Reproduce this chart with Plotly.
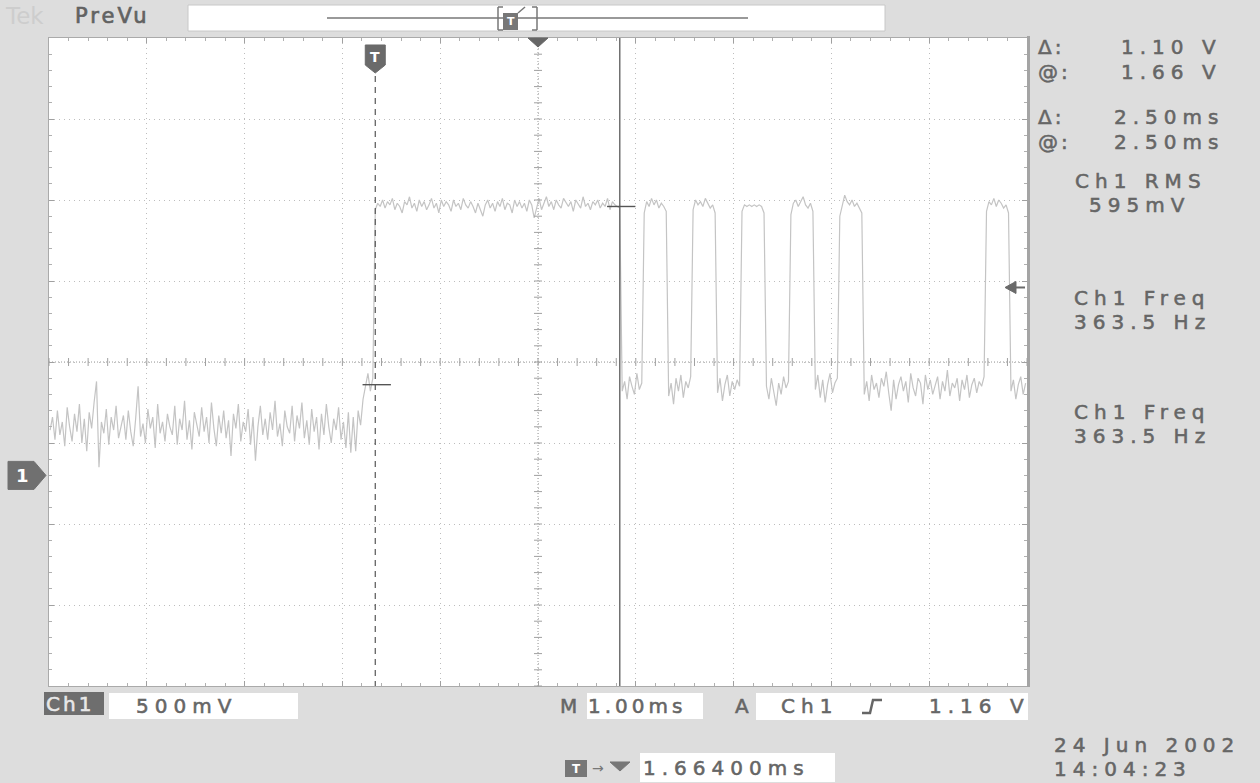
import plotly.graph_objects as go

# ---------------- readings from the screen ----------------
SAMPLE_MS = 0.025            # spacing of the displayed record points
PRE_START_MS = -3.325
pre_trigger_v = [
    0.28, 0.36, 0.22, 0.40, 0.25, 0.33, 0.18, 0.42, 0.30, 0.21,
    0.38, 0.27, 0.44, 0.20, 0.35, 0.15, 0.39, 0.29, 0.45, 0.58,
    0.05, 0.33, 0.26, 0.41, 0.19, 0.36, 0.28, 0.43, 0.23, 0.31,
    0.37, 0.22, 0.40, 0.27, 0.18, 0.35, 0.55, 0.24, 0.32, 0.20,
    0.41, 0.29, 0.36, 0.17, 0.44, 0.26, 0.33, 0.21, 0.38, 0.30,
    0.25, 0.43, 0.19, 0.35, 0.28, 0.46, 0.22, 0.34, 0.16, 0.39,
    0.31, 0.24, 0.42, 0.27, 0.36, 0.20, 0.45, 0.29, 0.18, 0.37,
    0.26, 0.40, 0.23, 0.34, 0.12, 0.38, 0.29, 0.44, 0.21, 0.33,
    0.27, 0.41, 0.19, 0.36, 0.09, 0.30, 0.43, 0.25, 0.35, 0.22,
    0.39, 0.28, 0.46, 0.24, 0.32, 0.18, 0.40, 0.30, 0.26, 0.43,
    0.21, 0.37, 0.29, 0.45, 0.23, 0.34, 0.19, 0.41, 0.27, 0.36,
    0.16, 0.38, 0.25, 0.44, 0.30, 0.20, 0.35, 0.28, 0.42, 0.22,
    0.33, 0.17, 0.39, 0.14, 0.36, 0.15, 0.40, 0.31, 0.47, 0.55,
    0.63, 0.52, 0.60,
]
HIGH_START_MS = 0.0
high_v = [
    1.64, 1.68, 1.66, 1.70, 1.65, 1.69, 1.67, 1.71, 1.64, 1.68,
    1.66, 1.62, 1.69, 1.67, 1.72, 1.65, 1.68, 1.63, 1.70, 1.66,
    1.69, 1.64, 1.67, 1.71, 1.65, 1.68, 1.62, 1.70, 1.66, 1.69,
    1.67, 1.63, 1.70, 1.66, 1.68, 1.64, 1.71, 1.67, 1.65, 1.69,
    1.66, 1.62, 1.68, 1.64, 1.60, 1.67, 1.70, 1.65, 1.68, 1.63,
    1.69, 1.66, 1.71, 1.64, 1.68, 1.67, 1.62, 1.70, 1.66, 1.69,
    1.65, 1.68, 1.63, 1.70, 1.67, 1.59, 1.66, 1.71, 1.64, 1.68,
    1.72, 1.66, 1.69, 1.64, 1.70, 1.67, 1.65, 1.71, 1.68, 1.66,
    1.69, 1.63, 1.70, 1.67, 1.65, 1.72, 1.66, 1.68, 1.64, 1.69,
    1.67, 1.70, 1.65, 1.68, 1.66, 1.71, 1.64, 1.69, 1.67, 1.66,
    1.65,
]
POST_START_MS = 2.525
post_v = [
    0.52, 0.58, 0.47, 0.61, 0.55, 0.50, 0.63, 0.53, 0.57,
    1.62, 1.69, 1.66, 1.71, 1.67, 1.70, 1.65, 1.68, 1.66, 1.63,
    0.49, 0.57, 0.44, 0.60, 0.52, 0.62, 0.48, 0.58, 0.54, 0.61,
    1.64, 1.70, 1.67, 1.69, 1.66, 1.71, 1.68, 1.65, 1.67, 1.62,
    0.51, 0.60, 0.46, 0.56, 0.62, 0.49, 0.58, 0.53, 0.59, 0.55,
    1.63, 1.67, 1.66, 1.67, 1.66, 1.67, 1.66, 1.67, 1.66, 1.62,
    0.55, 0.47, 0.60, 0.52, 0.43, 0.57, 0.50, 0.61, 0.54, 0.58,
    1.61, 1.68, 1.70, 1.66, 1.69, 1.72, 1.67, 1.65, 1.68, 1.63,
    0.53, 0.62, 0.48, 0.59, 0.45, 0.56, 0.63, 0.51, 0.57, 0.60,
    1.60, 1.66, 1.73, 1.69, 1.67, 1.70, 1.66, 1.68, 1.65, 1.62,
    0.50, 0.58, 0.46, 0.62, 0.53, 0.57, 0.48, 0.60, 0.55, 0.64,
    0.51, 0.40, 0.59, 0.47, 0.56, 0.61, 0.52, 0.58, 0.45, 0.63,
    0.54, 0.49, 0.60, 0.57, 0.44, 0.62, 0.53, 0.59, 0.50, 0.56,
    0.61, 0.47, 0.58, 0.52, 0.65, 0.49, 0.57, 0.54, 0.60, 0.46,
    0.59, 0.53, 0.62, 0.48, 0.56, 0.60, 0.51, 0.58, 0.55, 0.61,
    1.63, 1.69, 1.67, 1.71, 1.66, 1.70, 1.68, 1.65, 1.67, 1.62,
    0.52, 0.59, 0.47, 0.56, 0.61, 0.50, 0.57,
]

VOLTS_PER_DIV = 0.5
MS_PER_DIV = 1.0
CENTER_V = 0.70          # level at screen centre (ground marker 1.4 div below)
CENTER_MS = 1.664        # horizontal trigger position
TRIG_LEVEL_V = 1.16
CURSOR_T_MS = [0.0, 2.5]
CURSOR_V = [0.56, 1.66]
RMS_TEXT = "595mV"
FREQ_TEXT = "363.5 Hz"
DATE_TEXT = "24 Jun 2002"
TIME_TEXT = "14:04:23"

# ---------------- geometry / style ----------------
W, H = 1260, 783
L, R, T, B = 49, 1027, 38, 686
BG = "#dddddd"
TXT = "#666666"
DARK = "#6e6e6e"
FONT = "DejaVu Sans"
SP = 6

XMIN, XMAX = CENTER_MS - 5 * MS_PER_DIV, CENTER_MS + 5 * MS_PER_DIV
YMIN, YMAX = CENTER_V - 4 * VOLTS_PER_DIV, CENTER_V + 4 * VOLTS_PER_DIV


def pxx(p):
    return (p - L) / (R - L)


def pxy(p):
    return (B - p) / (B - T)


def t2px(t):
    return L + (t - XMIN) / (XMAX - XMIN) * (R - L)


def v2py(v):
    return B - (v - YMIN) / (YMAX - YMIN) * (B - T)


def seg(start, vals):
    return [round(start + i * SAMPLE_MS, 4) for i in range(len(vals))], list(vals)


xs, ys = [], []
for st, vv in ((PRE_START_MS, pre_trigger_v), (HIGH_START_MS, high_v), (POST_START_MS, post_v)):
    a, b = seg(st, vv)
    xs += a
    ys += b

fig = go.Figure()
fig.add_trace(go.Scatter(x=xs, y=ys, mode="lines",
                         line=dict(color="#c4c4c4", width=1.2), hoverinfo="skip"))

shapes = []
ann = []


def rect(x0, y0, x1, y1, fill, line=None, lw=0):
    shapes.append(dict(type="rect", xref="paper", yref="paper",
                       x0=pxx(x0), x1=pxx(x1), y0=pxy(y0), y1=pxy(y1),
                       fillcolor=fill, line=dict(color=line or fill, width=lw)))


def seg_line(x0, y0, x1, y1, color, width=1, dash=None):
    d = dict(color=color, width=width)
    if dash:
        d["dash"] = dash
    shapes.append(dict(type="line", xref="paper", yref="paper",
                       x0=pxx(x0), x1=pxx(x1), y0=pxy(y0), y1=pxy(y1), line=d))


def path(pts, fill, line=None, close=True, lw=1):
    s = "M " + " L ".join(f"{pxx(a):.5f},{pxy(b):.5f}" for a, b in pts)
    if close:
        s += " Z"
    shapes.append(dict(type="path", xref="paper", yref="paper", path=s,
                       fillcolor=fill if close else "rgba(0,0,0,0)",
                       line=dict(color=line or fill, width=lw)))


def label(text, x, y, size=20, color=TXT, anchor="left", spacing=SP, bold=False, stroke=0.55):
    if spacing or stroke:
        st = f"letter-spacing:{spacing}px;" if spacing else ""
        if stroke:
            st += f"stroke:{color};stroke-width:{stroke}px;"
        t = f'<span style="{st}">{text}</span>'
    else:
        t = text
    if bold:
        t = f"<b>{t}</b>"
    ann.append(dict(text=t, x=pxx(x), y=pxy(y), xref="paper", yref="paper",
                    xanchor=anchor, yanchor="middle", showarrow=False,
                    font=dict(family=FONT, size=size, color=color)))


# centre crosshair (dense dotted with small ticks)
shapes.append(dict(type="line", xref="x", yref="paper", x0=CENTER_MS, x1=CENTER_MS, y0=0, y1=1,
                   line=dict(color="#9a9a9a", width=1, dash="1px,2px"), layer="below"))
shapes.append(dict(type="line", xref="paper", yref="y", x0=0, x1=1, y0=CENTER_V, y1=CENTER_V,
                   line=dict(color="#9a9a9a", width=1, dash="1px,2px"), layer="below"))
cx, cy = t2px(CENTER_MS), v2py(CENTER_V)
for k in range(-25, 26):
    x = t2px(CENTER_MS + k * MS_PER_DIV / 5)
    seg_line(x, cy - 4, x, cy + 4, "#a0a0a0", 1)
for k in range(-20, 21):
    y = v2py(CENTER_V + k * VOLTS_PER_DIV / 5)
    seg_line(cx - 4, y, cx + 4, y, "#a0a0a0", 1)

# right border strip
rect(R, T - 2, R + 3, B + 1, "#a4a4a4")

# trigger-position marker at top centre
path([(cx - 10, T), (cx + 10, T), (cx, T + 9)], "#666666")

# trigger (T) cursor: dashed line + shield marker
tx = t2px(CURSOR_T_MS[0])
seg_line(tx, 76, tx, B, "#555555", 1.2, dash="6px,5px")
path([(tx - 10, 45), (tx + 10, 45), (tx + 10, 65), (tx, 73), (tx - 10, 65)], "#6a6a6a")
label("T", tx, 57, size=14, color="#ffffff", anchor="center", spacing=0, bold=True, stroke=0)

# second cursor: solid line
c2x = t2px(CURSOR_T_MS[1])
seg_line(c2x, T, c2x, B, "#707070", 1.5)

# cursor cross marks
for t, v in zip(CURSOR_T_MS, CURSOR_V):
    shapes.append(dict(type="line", xref="x", yref="y", x0=t - 0.13, x1=t + 0.16, y0=v, y1=v,
                       line=dict(color="#555555", width=1.4)))

# trigger level arrow at right
ty = v2py(TRIG_LEVEL_V)
path([(R - 22, ty), (R - 11, ty - 6), (R - 11, ty + 6)], "#6a6a6a")
seg_line(R - 12, ty, R - 2, ty, "#6a6a6a", 2)

# channel 1 ground marker
gy = v2py(0.0)
path([(8, gy - 14), (34, gy - 14), (46, gy), (34, gy + 14), (8, gy + 14)], "#707070")
label("1", 22, gy, size=18, color="#ffffff", anchor="center", spacing=0, bold=True, stroke=0)

# ---------------- top bar ----------------
label("Tek", 3, 16, size=23, color="#cdcdcd", spacing=0, stroke=0)
label("PreVu", 73, 16, size=21, color="#626262", spacing=3, stroke=0.7)
rect(188, 5, 885, 31, "#ffffff", line="#c8c8c8", lw=1)
seg_line(327, 18, 748, 18, "#777777", 1.5)
for bx, d in ((498, 1), (537, -1)):
    seg_line(bx, 7, bx, 30, "#777777", 1.5)
    seg_line(bx, 7, bx + 5 * d, 7, "#777777", 1.5)
    seg_line(bx, 30, bx + 5 * d, 30, "#777777", 1.5)
rect(503, 13, 518, 30, "#777777")
label("T", 510.5, 22, size=11, color="#ffffff", anchor="center", spacing=0, bold=True, stroke=0)
seg_line(518, 13, 525, 7, "#777777", 1.5)

# ---------------- right readout ----------------
dv = CURSOR_V[1] - CURSOR_V[0]
dt = CURSOR_T_MS[1] - CURSOR_T_MS[0]
label("\u0394:", 1036, 47, spacing=3)
label("@:", 1036, 72, spacing=3)
label(f"{dv:.2f} V", 1119, 47)
label(f"{CURSOR_V[1]:.2f} V", 1119, 72)
label("\u0394:", 1036, 117, spacing=3)
label("@:", 1036, 142, spacing=3)
label(f"{dt:.2f}ms", 1112, 117)
label(f"{CURSOR_T_MS[1]:.2f}ms", 1112, 142)
label("Ch1 RMS", 1073, 181)
label(RMS_TEXT, 1087, 205)
label("Ch1 Freq", 1072, 298)
label(FREQ_TEXT, 1072, 322)
label("Ch1 Freq", 1072, 412)
label(FREQ_TEXT, 1072, 436)

# ---------------- bottom status ----------------
rect(44, 692, 104, 715, DARK)
label("Ch1", 44, 704, color="#e8e8e8", spacing=3)
rect(109, 693, 298, 719, "#ffffff")
label(f"{int(VOLTS_PER_DIV * 1000)}mV", 134, 706)
label("M", 558, 706, spacing=0)
rect(587, 693, 703, 719, "#ffffff")
label(f"{MS_PER_DIV:.2f}ms", 586, 706, spacing=4)
label("A", 733, 706, spacing=0)
rect(756, 693, 1028, 720, "#ffffff")
label("Ch1", 779, 706)
path([(862, 713), (870, 713), (873, 700), (882, 700)], "#666666", close=False, lw=2.5)
label(f"{TRIG_LEVEL_V:.2f} V", 927, 706)
rect(565, 760, 587, 777, "#777777")
label("T", 576, 768.5, size=12, color="#ffffff", anchor="center", spacing=0, bold=True, stroke=0)
label("\u2192", 590, 768, size=14, spacing=0, color="#777777", stroke=0)
path([(610, 762), (630, 762), (620, 771)], "#777777")
rect(640, 753, 835, 782, "#ffffff")
label(f"{CENTER_MS:.5f}ms", 641, 768)
label(DATE_TEXT, 1052, 745)
label(TIME_TEXT, 1052, 769)

axis_common = dict(showticklabels=False, zeroline=False, showline=True, linecolor="#aaaaaa",
                   linewidth=1, mirror="allticks", ticks="inside", ticklen=5, tickcolor="#a0a0a0",
                   showgrid=True, gridcolor="#bdbdbd", gridwidth=1, griddash="1px,4px",
                   fixedrange=True)
fig.update_layout(
    width=W, height=H, autosize=False,
    margin=dict(l=L, r=W - R, t=T, b=H - B, pad=0),
    paper_bgcolor=BG, plot_bgcolor="#ffffff", showlegend=False,
    xaxis=dict(range=[XMIN, XMAX], tick0=CENTER_MS, dtick=MS_PER_DIV,
               minor=dict(tick0=CENTER_MS, dtick=MS_PER_DIV / 5, ticks="inside", ticklen=3,
                          tickcolor="#b0b0b0", showgrid=False), **axis_common),
    yaxis=dict(range=[YMIN, YMAX], tick0=CENTER_V, dtick=VOLTS_PER_DIV,
               minor=dict(tick0=CENTER_V, dtick=VOLTS_PER_DIV / 5, ticks="inside", ticklen=3,
                          tickcolor="#b0b0b0", showgrid=False), **axis_common),
    shapes=shapes, annotations=ann,
)

fig.write_html("out.html", config={"displayModeBar": False},
               post_script="document.body.style.margin='0';document.body.style.overflow='hidden';")
